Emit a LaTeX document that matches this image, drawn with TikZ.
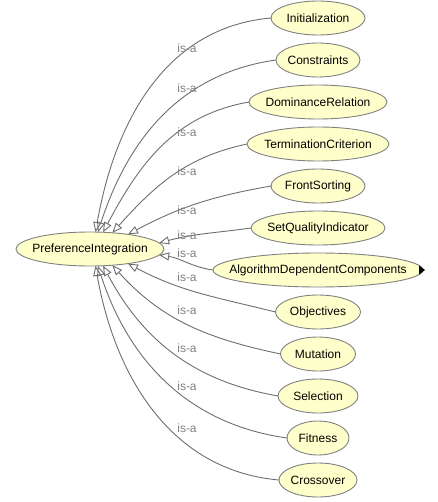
\documentclass[tikz,border=0pt]{standalone}
\usepackage{fontspec}
\setmainfont{Liberation Sans}
\usetikzlibrary{positioning,shapes.geometric,arrows.meta}
\definecolor{clsfill}{RGB}{255,255,204}
\definecolor{clsline}{RGB}{128,128,128}
\definecolor{edgegray}{RGB}{110,110,110}
\definecolor{labelgray}{RGB}{128,128,128}

\begin{document}
\begin{tikzpicture}[
  x=1pt, y=1pt,
  node distance=8pt,
  every node/.style={font=\fontsize{12}{14}\selectfont},
  cls/.style={ellipse, draw=clsline, fill=clsfill, line width=0.9pt,
    inner xsep=-20pt, inner ysep=0pt, outer sep=0pt, minimum height=34pt},
  isa/.style={draw=edgegray, line width=0.9pt,
    -{Triangle[open, length=10pt, width=8pt]}},
  lbl/.style={text=labelgray, inner sep=0pt}
]
  \useasboundingbox (0,0) rectangle (437,-502);

  % superclass
  \node[cls, minimum width=148pt] (pref) at (90,-249) {PreferenceIntegration};

  % subclasses
  \node[cls, minimum width=94pt] (init) at (318,-18) {Initialization};
  \node[cls, minimum width=84pt, below=of init] (cons) {Constraints};
  \node[cls, minimum width=138pt, below=of cons] (dom) {DominanceRelation};
  \node[cls, minimum width=142pt, below=of dom] (term) {TerminationCriterion};
  \node[cls, minimum width=94pt, below=of term] (front) {FrontSorting};
  \node[cls, minimum width=134pt, below=of front] (sqi) {SetQualityIndicator};
  \node[cls, minimum width=210pt, below=of sqi] (adc) {AlgorithmDependentComponents};
  \node[cls, minimum width=85pt, below=of adc] (obj) {Objectives};
  \node[cls, minimum width=75pt, below=of obj] (mut) {Mutation};
  \node[cls, minimum width=80pt, below=of mut] (sel) {Selection};
  \node[cls, minimum width=62pt, below=of sel] (fit) {Fitness};
  \node[cls, minimum width=78pt, below=of fit] (cross) {Crossover};

  % collapsed marker
  \fill ([xshift=-4pt,yshift=4.5pt]adc.east) -- ([xshift=-4pt,yshift=-4.5pt]adc.east)
    -- ([xshift=2pt]adc.east) -- cycle;

  % is-a edges
  \draw[isa] (init.west) to[out=185, in=80] (pref.72);
  \draw[isa] (cons.west) to[out=188, in=72] (pref.65);
  \draw[isa] (dom.west) to[out=190, in=62] (pref.52);
  \draw[isa] (term.west) to[out=192, in=48] (pref.36);
  \draw[isa] (front.west) to[out=190, in=28] (pref.21);
  \draw[isa] (sqi.west) to[out=188, in=15] (pref.5);
  \draw[isa] (adc.west) to[out=172, in=-8] (pref.-5);
  \draw[isa] (obj.west) to[out=166, in=-28] (pref.-21);
  \draw[isa] (mut.west) to[out=168, in=-48] (pref.-36);
  \draw[isa] (sel.west) to[out=170, in=-62] (pref.-52);
  \draw[isa] (fit.west) to[out=172, in=-72] (pref.-65);
  \draw[isa] (cross.west) to[out=175, in=-80] (pref.-72);

  % edge labels
  \node[lbl] (l1) at (187,-48) {is-a};
  \node[lbl] (l2) at (187,-88) {is-a};
  \node[lbl] (l3) at (187,-132) {is-a};
  \node[lbl] (l4) at (187,-171) {is-a};
  \node[lbl] (l5) at (187,-210) {is-a};
  \node[lbl] (l6) at (187,-235) {is-a};
  \node[lbl] (l7) at (187,-253) {is-a};
  \node[lbl] (l8) at (187,-277) {is-a};
  \node[lbl] (l9) at (187,-310) {is-a};
  \node[lbl] (l10) at (187,-348) {is-a};
  \node[lbl] (l11) at (187,-386) {is-a};
  \node[lbl] (l12) at (187,-428) {is-a};
\end{tikzpicture}
\end{document}
